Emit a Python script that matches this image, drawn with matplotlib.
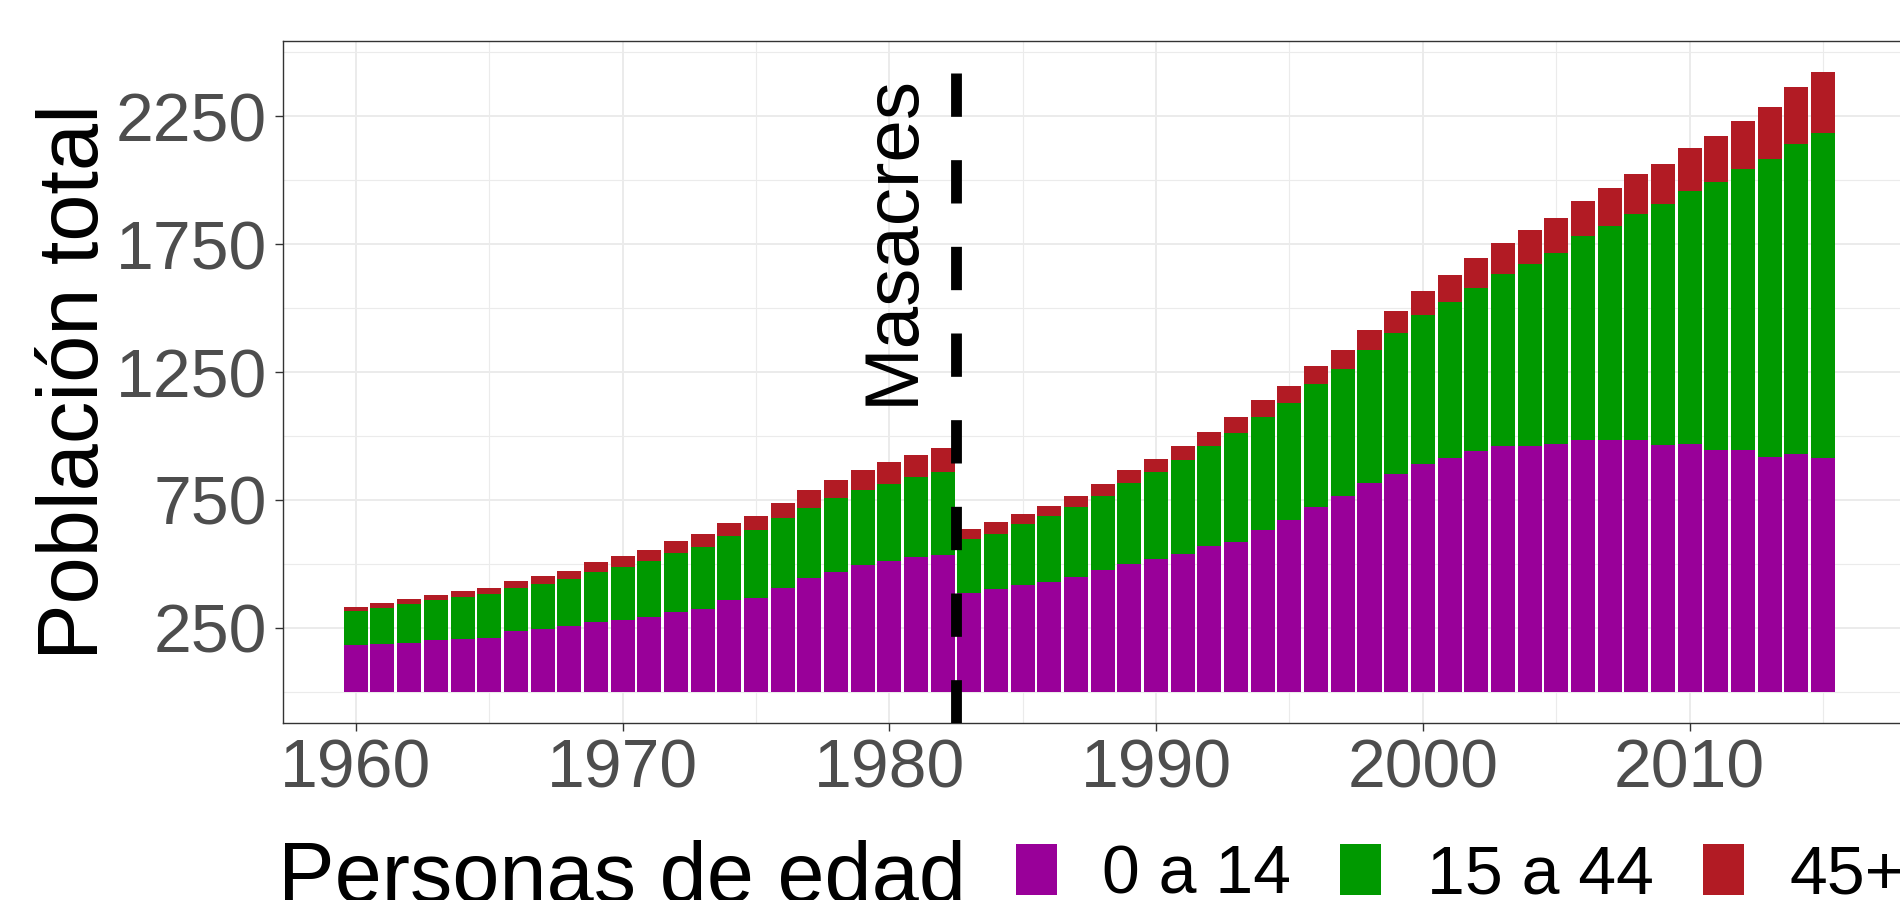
import matplotlib
matplotlib.use("Agg")
import matplotlib.pyplot as plt
from matplotlib.patches import Patch
from matplotlib.ticker import FixedLocator
import numpy as np

plt.rcParams['font.family'] = ['Liberation Sans', 'DejaVu Sans']

years = list(range(1960, 2016))

p014 = [182, 188, 191, 203, 207, 212, 238, 245, 258, 273,
        281, 293, 310, 324, 358, 367, 405, 445, 470, 495,
        510, 525, 534, 387, 400, 419, 431, 448, 476, 499,
        518, 540, 569, 587, 634, 671, 722, 766, 817, 851,
        891, 915, 943, 960, 960, 967, 985, 985, 985, 965,
        970, 945, 945, 916, 928, 912]

p1544 = [134, 141, 154, 154, 165, 172, 167, 178, 182, 194,
         207, 219, 233, 241, 249, 264, 275, 274, 288, 294,
         301, 313, 325, 209, 218, 236, 256, 273, 290, 316,
         340, 365, 390, 425, 441, 456, 480, 495, 520, 550,
         582, 608, 634, 674, 714, 750, 797, 837, 882, 941,
         989, 1046, 1099, 1165, 1212, 1274]

p45 = [16, 17, 16, 22, 21, 21, 29, 29, 34, 39,
       41, 44, 45, 51, 52, 55, 57, 69, 71, 77,
       86, 88, 93, 39, 46, 39, 40, 43, 45, 51,
       51, 55, 58, 61, 64, 68, 71, 75, 78, 88,
       94, 105, 118, 122, 130, 135, 138, 149, 158, 158,
       166, 180, 186, 204, 224, 236]

group_labels = ["0 a 14", "15 a 44", "45+"]
group_colors = ["#990099", "#009900", "#B21B24"]
legend_title = "Personas de edad"
y_title = "Población total"
event_year = 1982.5
event_label = "Masacres"

y_major = [250, 750, 1250, 1750, 2250]
y_minor = [0, 500, 1000, 1500, 2000, 2500]
x_major = [1960, 1970, 1980, 1990, 2000, 2010]
x_minor = [1965, 1975, 1985, 1995, 2005, 2015]

fig = plt.figure(figsize=(19, 9), dpi=100)
fig.patch.set_facecolor("white")
ax = fig.add_axes([0.1488, 0.197, 1.0058 - 0.1488, 0.9541 - 0.197])
ax.set_facecolor("white")

yrs = np.array(years)
a = np.array(p014)
b = np.array(p1544)
c = np.array(p45)
ax.bar(yrs, a, width=0.9, color=group_colors[0], linewidth=0, zorder=2)
ax.bar(yrs, b, bottom=a, width=0.9, color=group_colors[1], linewidth=0, zorder=2)
ax.bar(yrs, c, bottom=a + b, width=0.9, color=group_colors[2], linewidth=0, zorder=2)

ax.axvline(event_year, color="black", linewidth=7.8, linestyle=(0, (4, 4)), zorder=3)
ax.text(1980.86, 1767, event_label, rotation=90, rotation_mode="anchor",
        ha="center", va="baseline", fontsize=55, color="black", zorder=4)

ax.set_xlim(1957.26, 2018.3)
ax.set_ylim(-121, 2543)

ax.xaxis.set_major_locator(FixedLocator(x_major))
ax.xaxis.set_minor_locator(FixedLocator(x_minor))
ax.yaxis.set_major_locator(FixedLocator(y_major))
ax.yaxis.set_minor_locator(FixedLocator(y_minor))
ax.set_axisbelow(True)
ax.grid(which="major", color="#EBEBEB", linewidth=1.4, zorder=0)
ax.grid(which="minor", color="#EBEBEB", linewidth=0.8, zorder=0)

for s in ax.spines.values():
    s.set_color("#333333")
    s.set_linewidth(1.0)

ax.tick_params(which="major", length=5.8, width=1.0, color="#333333",
               labelcolor="#4D4D4D", labelsize=49)
ax.tick_params(axis="y", which="major", pad=5.5)
ax.tick_params(axis="x", which="major", pad=4.5)
ax.tick_params(which="minor", length=0)

ax.set_ylabel(y_title, fontsize=61, color="black", labelpad=0)

handles = [Patch(facecolor=col, edgecolor="none") for col in group_colors]
fig.legend(handles, group_labels, ncol=3, loc="lower left",
           bbox_to_anchor=(1016 / 1900, -0.008), frameon=False,
           fontsize=49, handlelength=0.6, handleheight=0.76,
           handletextpad=0.67, columnspacing=0.72,
           borderpad=0, borderaxespad=0)
fig.text(278.5 / 1900, 1 - 902.4 / 900, legend_title, fontsize=61,
         color="black", ha="left", va="baseline")

fig.savefig("out.png", dpi=100)
